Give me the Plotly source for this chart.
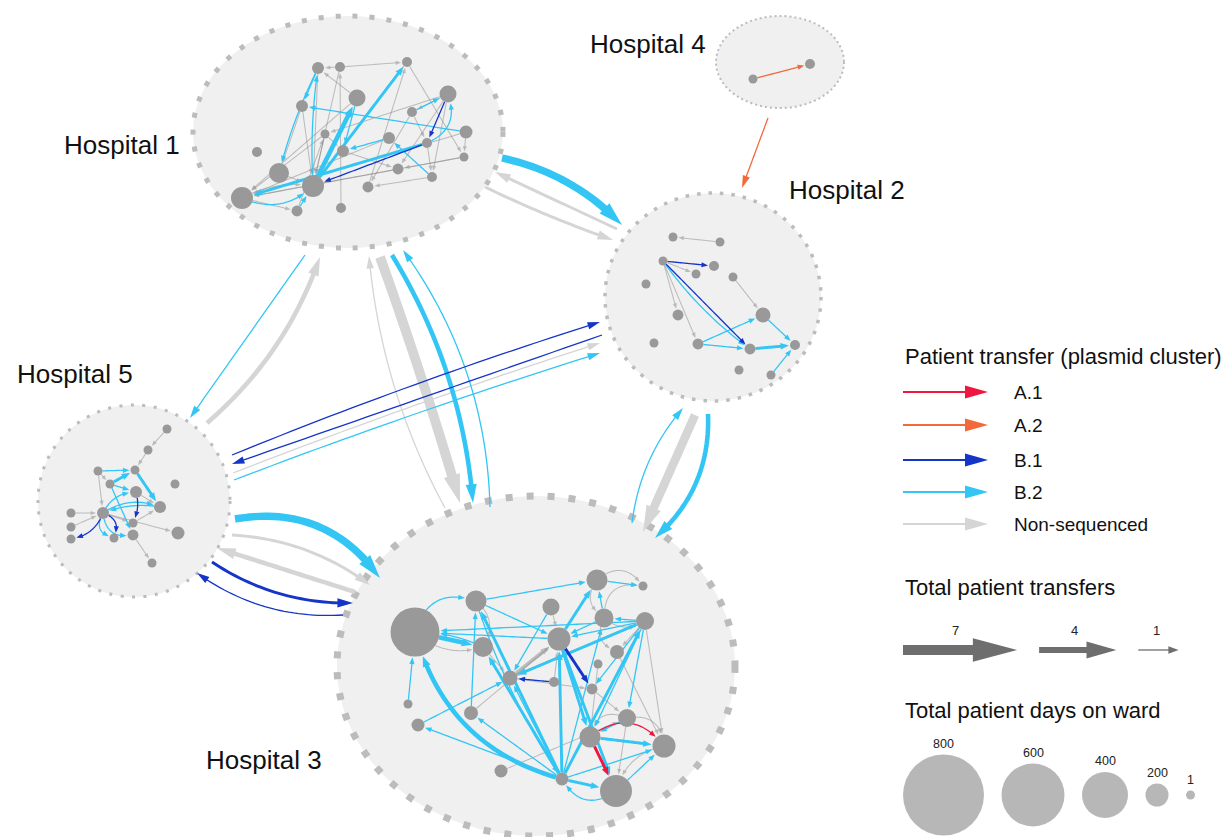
import numpy as np
import plotly.graph_objects as go

# ------------------------------------------------------------------
# Hospitals (ellipse layout) and labels
# ------------------------------------------------------------------
hospitals = ["Hospital 1", "Hospital 2", "Hospital 3", "Hospital 4", "Hospital 5"]
hosp_cx = [348, 713, 536, 780, 134]
hosp_cy = [132, 297, 666, 62, 501]
hosp_rx = [155, 108, 199, 64, 96]
hosp_ry = [116, 104, 170, 46, 96]
hosp_label_x = [62, 787, 204, 588, 15]
hosp_label_y = [145, 190, 760, 44, 374]

# ------------------------------------------------------------------
# Wards: position inside each hospital and total patient days
# ------------------------------------------------------------------
h1_x = [318, 340, 407, 357, 448, 302, 412, 466, 325, 389, 427, 257, 343, 464, 279, 398, 432, 313, 368, 242, 297, 341]
h1_y = [68, 67, 62, 98, 94, 106, 112, 132, 134, 138, 143, 152, 151, 157, 173, 169, 177, 186, 187, 198, 211, 208]
h1_days = [44, 15, 15, 115, 115, 44, 15, 58, 1, 44, 15, 15, 44, 1, 157, 29, 15, 186, 29, 186, 29, 15]

h2_x = [673, 720, 663, 714, 696, 733, 646, 678, 763, 654, 698, 750, 795, 739, 771]
h2_y = [237, 242, 261, 266, 274, 277, 284, 315, 315, 343, 344, 349, 345, 370, 375]
h2_days = [1, 1, 1, 15, 1, 1, 1, 29, 86, 1, 29, 29, 15, 1, 1]

h3_x = [415, 476, 597, 643, 551, 604, 645, 483, 559, 617, 598, 510, 554, 592, 408, 471, 418, 627, 590, 664, 501, 562, 616]
h3_y = [632, 601, 580, 586, 607, 618, 621, 647, 639, 652, 664, 678, 682, 689, 704, 713, 725, 718, 737, 746, 771, 779, 791]
h3_days = [435, 172, 172, 1, 115, 143, 129, 157, 200, 72, 1, 86, 15, 29, 1, 72, 58, 129, 172, 200, 58, 58, 278]

h4_x = [753, 810]
h4_y = [79, 64]
h4_days = [1, 15]

h5_x = [167, 148, 98, 135, 110, 175, 136, 71, 103, 160, 71, 133, 178, 71, 114, 133, 152]
h5_y = [429, 450, 471, 470, 484, 484, 492, 513, 513, 507, 527, 523, 533, 539, 538, 535, 563]
h5_days = [1, 1, 1, 1, 1, 1, 44, 1, 44, 44, 1, 1, 58, 1, 1, 29, 1]

# ------------------------------------------------------------------
# Transfers within hospitals: (from ward, to ward, plasmid cluster, transfers)
# ------------------------------------------------------------------
h1_edges = [
    (2, 1, "NS", 1), (2, 3, "NS", 1), (1, 18, "NS", 1), (2, 18, "NS", 1), (3, 18, "NS", 1),
    (4, 20, "NS", 1), (3, 14, "NS", 1), (5, 9, "NS", 1), (5, 16, "NS", 1), (5, 17, "NS", 1),
    (6, 18, "NS", 1), (6, 15, "NS", 1), (7, 11, "NS", 1), (8, 20, "NS", 1), (9, 20, "NS", 1),
    (9, 18, "NS", 1), (11, 17, "NS", 1), (14, 16, "NS", 1), (14, 20, "NS", 1), (16, 20, "NS", 1),
    (19, 3, "NS", 1), (21, 9, "NS", 1), (22, 2, "NS", 1), (17, 19, "NS", 1), (20, 21, "NS", 1),
    (15, 18, "NS", 1), (13, 16, "NS", 1), (10, 20, "NS", 1), (4, 1, "NS", 1), (7, 19, "NS", 1),
    (9, 13, "NS", 1), (20, 18, "NS", 1), (8, 14, "NS", 1), (5, 7, "NS", 1),
    (18, 3, "B.2", 2), (18, 4, "B.2", 3), (11, 20, "B.2", 2), (8, 6, "B.2", 1), (7, 5, "B.2", 1),
    (17, 10, "B.2", 1), (10, 13, "B.2", 1), (1, 15, "B.2", 1), (18, 1, "B.2", 1), (1, 6, "B.2", 1),
    (20, 18, "B.2", 1), (21, 18, "B.2", 1), (11, 5, "B.2", 1), (4, 13, "B.2", 1),
    (11, 18, "B.1", 1), (5, 11, "B.1", 1),
]
h2_edges = [
    (2, 1, "NS", 1), (3, 5, "NS", 1), (3, 8, "NS", 1), (3, 11, "NS", 1), (6, 9, "NS", 1),
    (3, 12, "B.2", 1), (11, 9, "B.2", 1), (11, 12, "B.2", 1), (12, 13, "B.2", 2), (9, 13, "B.2", 1),
    (15, 13, "B.2", 1),
    (3, 4, "B.1", 1), (3, 12, "B.1", 1),
]
h3_edges = [
    (12, 9, "NS", 3), (12, 7, "NS", 2), (16, 9, "NS", 1), (21, 18, "NS", 1), (6, 4, "NS", 1),
    (3, 4, "NS", 1), (6, 10, "NS", 1), (7, 10, "NS", 1), (10, 20, "NS", 1), (18, 20, "NS", 1),
    (18, 19, "NS", 1), (11, 19, "NS", 1), (14, 18, "NS", 1), (2, 8, "NS", 1), (1, 8, "NS", 1),
    (8, 12, "NS", 1), (13, 9, "NS", 1), (7, 20, "NS", 1), (12, 14, "NS", 1), (20, 23, "NS", 1),
    (18, 23, "NS", 1), (6, 7, "NS", 1), (5, 9, "NS", 1), (3, 6, "NS", 1),
    (22, 1, "B.2", 3), (22, 2, "B.2", 2), (2, 22, "B.2", 1), (22, 8, "B.2", 2), (22, 9, "B.2", 2),
    (22, 12, "B.2", 1), (22, 16, "B.2", 1), (22, 17, "B.2", 1), (22, 7, "B.2", 2), (22, 6, "B.2", 1),
    (22, 23, "B.2", 2), (23, 22, "B.2", 1), (22, 20, "B.2", 1), (1, 8, "B.2", 3), (8, 1, "B.2", 1),
    (1, 2, "B.2", 1), (2, 3, "B.2", 1), (3, 4, "B.2", 1), (9, 3, "B.2", 2), (6, 3, "B.2", 1),
    (7, 9, "B.2", 1), (7, 12, "B.2", 2), (7, 1, "B.2", 1), (9, 1, "B.2", 1), (2, 9, "B.2", 1),
    (5, 12, "B.2", 1), (15, 1, "B.2", 1), (17, 12, "B.2", 1), (9, 19, "B.2", 2), (9, 23, "B.2", 2),
    (7, 19, "B.2", 1), (7, 18, "B.2", 1), (7, 14, "B.2", 1), (19, 20, "B.2", 2), (18, 19, "B.2", 1),
    (6, 9, "B.2", 1), (7, 6, "B.2", 1), (23, 20, "B.2", 1), (16, 2, "B.2", 1),
    (13, 12, "B.1", 1), (9, 14, "B.1", 2),
    (19, 23, "A.1", 2), (19, 20, "A.1", 1),
]
h4_edges = [(1, 2, "A.2", 1)]
h5_edges = [
    (1, 2, "NS", 1), (2, 4, "NS", 1), (8, 9, "NS", 1), (11, 9, "NS", 1), (3, 9, "NS", 1),
    (16, 17, "NS", 1), (9, 13, "NS", 1), (12, 10, "NS", 1), (3, 5, "NS", 1), (9, 12, "NS", 1),
    (7, 10, "NS", 1),
    (3, 4, "B.2", 1), (5, 4, "B.2", 2), (4, 10, "B.2", 2), (9, 7, "B.2", 1), (9, 10, "B.2", 1),
    (10, 9, "B.2", 1), (9, 16, "B.2", 1), (5, 16, "B.2", 1), (5, 7, "B.2", 1), (9, 15, "B.2", 1),
    (9, 14, "B.1", 1), (9, 15, "B.1", 1), (7, 12, "B.1", 1),
]

# curvature of individual within-hospital edges (px offset of the control point)
edge_bend = {
    (1, 20, 18, "B.2"): 24, (1, 20, 18, "NS"): -12, (1, 11, 5, "B.2"): 25,
    (1, 1, 15, "B.2"): 6, (1, 18, 1, "B.2"): -6,
    (2, 3, 12, "B.2"): 10,
    (3, 22, 1, "B.2"): -60, (3, 2, 22, "B.2"): 14, (3, 23, 22, "B.2"): -30, (3, 1, 2, "B.2"): -35,
    (3, 8, 1, "B.2"): 8, (3, 19, 20, "A.1"): -37, (3, 6, 4, "NS"): -30, (3, 3, 4, "NS"): -25,
    (3, 6, 10, "NS"): 20, (3, 18, 20, "NS"): -25, (3, 18, 19, "NS"): 25, (3, 2, 8, "NS"): -20,
    (3, 1, 8, "NS"): 20, (3, 20, 23, "NS"): 20, (3, 6, 7, "NS"): 15, (3, 3, 6, "NS"): 20,
    (5, 9, 7, "B.2"): -12, (5, 9, 10, "B.2"): -15, (5, 10, 9, "B.2"): 8, (5, 9, 16, "B.2"): 20,
    (5, 9, 15, "B.2"): 18, (5, 9, 14, "B.1"): -12, (5, 9, 15, "B.1"): -15, (5, 7, 12, "B.1"): -6,
}

# ------------------------------------------------------------------
# Transfers between hospitals: (from, to, plasmid cluster, transfers)
# ------------------------------------------------------------------
inter_edges = [
    (1, 2, "B.2", 5), (2, 1, "NS", 2), (1, 2, "NS", 2),
    (3, 1, "NS", 1), (1, 3, "NS", 7), (1, 3, "B.2", 3), (3, 1, "B.2", 1),
    (1, 5, "B.2", 1), (5, 1, "NS", 3),
    (3, 2, "B.2", 1), (2, 3, "NS", 6), (2, 3, "B.2", 3),
    (5, 3, "B.2", 5), (5, 3, "NS", 2), (3, 5, "NS", 3), (5, 3, "B.1", 2), (3, 5, "B.1", 1),
    (5, 2, "B.1", 1), (2, 5, "B.1", 1), (5, 2, "NS", 1), (5, 2, "B.2", 1),
    (4, 2, "A.2", 1),
]
# routing of those arrows between the hospital outlines: x0, y0, x1, y1, bend
inter_routes = [
    (502, 158, 622, 225, -21), (617, 229, 495, 172, 0), (485, 187, 613, 240, 4),
    (445, 508, 369, 256, -27), (380, 257, 460, 503, -4), (392, 255, 473, 503, -31), (490, 507, 403, 250, 42),
    (305, 255, 190, 418, 0), (207, 423, 320, 257, 27),
    (632, 523, 683, 408, -19), (695, 415, 643, 532, 0), (708, 414, 655, 538, -32),
    (235, 519, 380, 578, -49), (232, 535, 370, 585, -22), (355, 592, 217, 548, 0),
    (212, 562, 353, 603, 23), (343, 615, 197, 573, -27),
    (232, 455, 600, 322, -8), (602, 335, 232, 464, 0), (233, 473, 600, 343, -6), (234, 480, 600, 353, -6),
    (768, 118, 742, 188, 0),
]

# Legend content
cluster_names = ["A.1", "A.2", "B.1", "B.2", "Non-sequenced"]
cluster_keys = ["A.1", "A.2", "B.1", "B.2", "NS"]
legend_transfers = [7, 4, 1]
legend_days = [800, 600, 400, 200, 1]

# ------------------------------------------------------------------
# Styling
# ------------------------------------------------------------------
FONT = "Liberation Sans, Arial, sans-serif"
cluster_color = {"A.1": "#ef1640", "A.2": "#f4693a", "B.1": "#1535c8", "B.2": "#33c6f4", "NS": "#d5d5d5"}
inner_ns_color = "rgba(135,135,135,0.5)"
node_color = "#999999"
hosp_fill = "#f0f0f0"
hosp_border = "#bcbcbc"
hosp_dot = [(5, 12), (3.5, 8), (7, 14), (2, 3), (3, 8.5)]
draw_order = {"NS": 0, "B.2": 1, "B.1": 2, "A.2": 3, "A.1": 4}


def node_px(days):
    return float(np.interp(days, [1, 200, 400, 600, 800], [9, 23, 46, 63, 81]))


def edge_w(t):
    return float(np.interp(t, [1, 4, 7], [1.3, 6.2, 9.8]))


shapes = []
annotations = []


def fmt(pts):
    return "M " + " L ".join(f"{x:.2f},{y:.2f}" for x, y in pts)


def curve(p0, p1, bend, n=60):
    p0 = np.asarray(p0, float)
    p1 = np.asarray(p1, float)
    d = p1 - p0
    L = np.hypot(*d)
    u = d / L
    nrm = np.array([-u[1], u[0]])
    c = (p0 + p1) / 2 + nrm * bend
    t = np.linspace(0, 1, n)[:, None]
    return (1 - t) ** 2 * p0 + 2 * (1 - t) * t * c + t ** 2 * p1


def arrow(p0, p1, bend, r0, r1, color, width, hl, hw):
    pts = curve(p0, p1, bend)
    s = np.concatenate([[0], np.cumsum(np.hypot(*np.diff(pts, axis=0).T))])
    total = s[-1]
    s_tip = total - r1
    hl = min(hl, max(2.0, (s_tip - r0) * 0.6))
    s_base = s_tip - hl

    def at(v):
        return np.array([np.interp(v, s, pts[:, 0]), np.interp(v, s, pts[:, 1])])

    ss = np.linspace(r0, s_base + 0.6, 30)
    shaft = np.column_stack([np.interp(ss, s, pts[:, 0]), np.interp(ss, s, pts[:, 1])])
    shapes.append(dict(type="path", path=fmt(shaft), xref="x", yref="y", layer="below",
                       line=dict(color=color, width=width)))
    tip, base = at(s_tip), at(s_base)
    u = (tip - base) / max(np.hypot(*(tip - base)), 1e-6)
    nrm = np.array([-u[1], u[0]])
    c1, c2 = base + nrm * hw, base - nrm * hw
    shapes.append(dict(type="path", path=fmt([tip, c1, c2]) + " Z", xref="x", yref="y", layer="below",
                       fillcolor=color, line=dict(width=0)))


# hospital outlines
for i in range(len(hospitals)):
    dot, gap = hosp_dot[i]
    shapes.append(dict(type="circle", xref="x", yref="y", layer="below",
                       x0=hosp_cx[i] - hosp_rx[i], x1=hosp_cx[i] + hosp_rx[i],
                       y0=hosp_cy[i] - hosp_ry[i], y1=hosp_cy[i] + hosp_ry[i],
                       fillcolor=hosp_fill,
                       line=dict(color=hosp_border, width=dot, dash=f"{dot}px,{gap}px")))
    annotations.append(dict(x=hosp_label_x[i], y=hosp_label_y[i], xref="x", yref="y", text=hospitals[i],
                            showarrow=False, xanchor="left", yanchor="middle",
                            font=dict(family=FONT, size=26, color="#111111")))

wards = [
    (h1_x, h1_y, h1_days, h1_edges),
    (h2_x, h2_y, h2_days, h2_edges),
    (h3_x, h3_y, h3_days, h3_edges),
    (h4_x, h4_y, h4_days, h4_edges),
    (h5_x, h5_y, h5_days, h5_edges),
]

# transfers between hospitals
for (src, dst, cl, t), (x0, y0, x1, y1, b) in sorted(zip(inter_edges, inter_routes),
                                                     key=lambda e: draw_order[e[0][2]]):
    w = edge_w(t)
    arrow((x0, y0), (x1, y1), b, 0, 0, cluster_color[cl], w,
          10 + 1.9 * w, max(3 + 0.55 * w, 0.5 * w + 2.5))

# transfers within hospitals
for h, (xs, ys, days, edges) in enumerate(wards, start=1):
    for (a, b, cl, t) in sorted(edges, key=lambda e: draw_order[e[2]]):
        w = edge_w(t)
        bend = edge_bend.get((h, a, b, cl), 0)
        r0 = node_px(days[a - 1]) / 2
        r1 = node_px(days[b - 1]) / 2 + 1
        if cl == "NS":
            arrow((xs[a - 1], ys[a - 1]), (xs[b - 1], ys[b - 1]), bend, r0, r1,
                  inner_ns_color, w * 0.8, 4 + w, 1.6 + 0.35 * w)
        else:
            arrow((xs[a - 1], ys[a - 1]), (xs[b - 1], ys[b - 1]), bend, r0, r1,
                  cluster_color[cl], w, 5 + 1.2 * w, 2 + 0.45 * w)

fig = go.Figure()

# wards as bubbles sized by total patient days
for h, (xs, ys, days, edges) in enumerate(wards, start=1):
    fig.add_trace(go.Scatter(x=xs, y=ys, mode="markers", hoverinfo="skip",
                             marker=dict(size=[node_px(d) for d in days], color=node_color,
                                         line=dict(width=0), opacity=1)))

# ------------------------------------------------------------------
# Legends
# ------------------------------------------------------------------
LX = 903
annotations.append(dict(x=LX, y=356, xref="x", yref="y", text="Patient transfer (plasmid cluster)",
                        showarrow=False, xanchor="left", yanchor="middle",
                        font=dict(family=FONT, size=22, color="#111111")))
row_y = [392, 425, 460, 492, 524]
for name, key, yy in zip(cluster_names, cluster_keys, row_y):
    arrow((LX, yy), (988, yy), 0, 0, 0, cluster_color[key], 2.2, 23, 6.5)
    annotations.append(dict(x=1012, y=yy, xref="x", yref="y", text=name, showarrow=False,
                            xanchor="left", yanchor="middle",
                            font=dict(family=FONT, size=19, color="#111111")))

annotations.append(dict(x=LX, y=587, xref="x", yref="y", text="Total patient transfers",
                        showarrow=False, xanchor="left", yanchor="middle",
                        font=dict(family=FONT, size=22, color="#111111")))
ax = LX
for t in legend_transfers:
    w = edge_w(t)
    length = 28 + 12.3 * t
    arrow((ax, 650), (ax + length, 650), 0, 0, 0, "#6e6e6e", w, 4 * w + 5, 0.95 * w + 2.5)
    annotations.append(dict(x=ax + length * 0.46, y=640, xref="x", yref="y", text=str(t), showarrow=False,
                            xanchor="center", yanchor="bottom",
                            font=dict(family=FONT, size=13, color="#222222")))
    ax += length + 22

annotations.append(dict(x=LX, y=710, xref="x", yref="y", text="Total patient days on ward",
                        showarrow=False, xanchor="left", yanchor="middle",
                        font=dict(family=FONT, size=22, color="#111111")))
cx_list, cx = [], LX
for d in legend_days:
    r = node_px(d) / 2
    cx_list.append(cx + r)
    cx += 2 * r + 17.5
fig.add_trace(go.Scatter(x=cx_list, y=[795] * len(legend_days), mode="markers", hoverinfo="skip",
                         marker=dict(size=[node_px(d) for d in legend_days], color=node_color,
                                     line=dict(width=0))))
for d, x in zip(legend_days, cx_list):
    annotations.append(dict(x=x, y=795 - node_px(d) / 2 - 2, xref="x", yref="y", text=str(d),
                            showarrow=False, xanchor="center", yanchor="bottom",
                            font=dict(family=FONT, size=12.5, color="#222222")))

fig.update_layout(
    width=1223, height=837, margin=dict(l=0, r=0, t=0, b=0),
    paper_bgcolor="white", plot_bgcolor="white", showlegend=False,
    xaxis=dict(range=[0, 1223], visible=False, fixedrange=True),
    yaxis=dict(range=[837, 0], visible=False, fixedrange=True),
    shapes=shapes, annotations=annotations,
)

fig.write_html("out.html", config={"displayModeBar": False})
